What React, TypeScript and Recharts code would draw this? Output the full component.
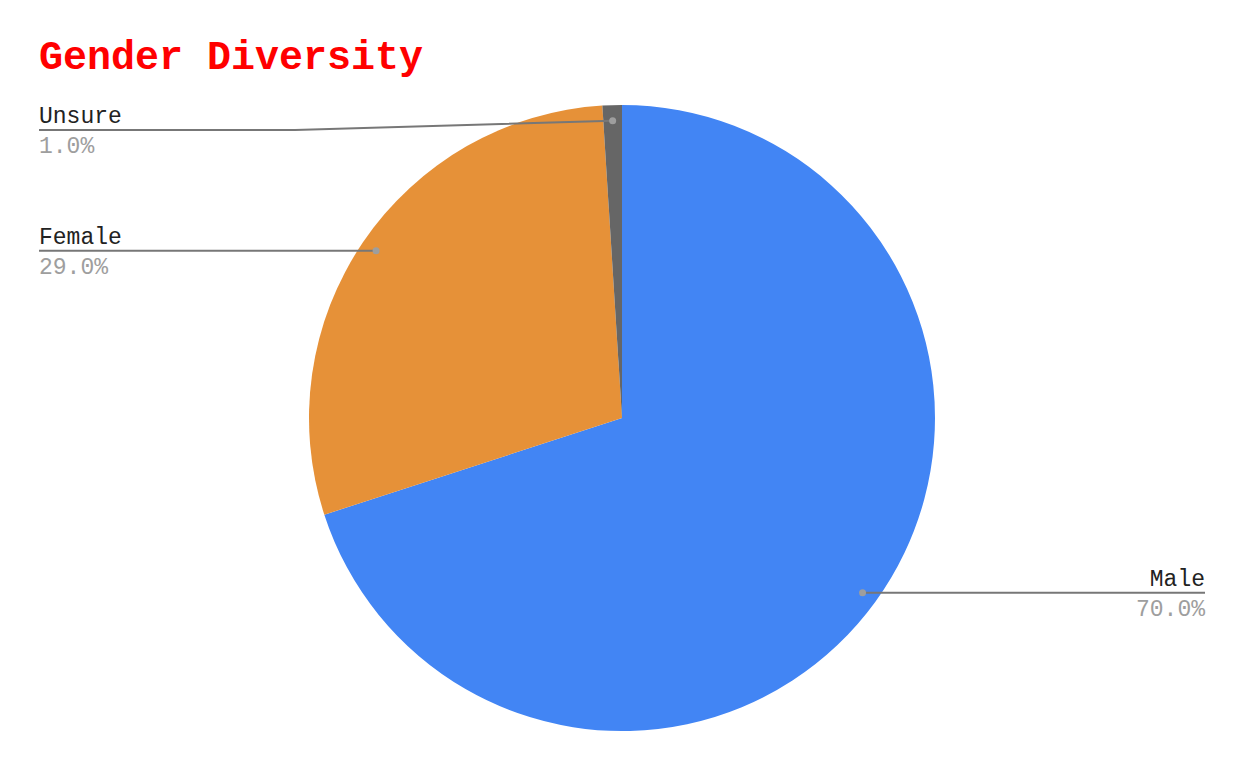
import React from 'react';
import { PieChart, Pie, Cell } from 'recharts';

const categories = ['Male', 'Female', 'Unsure'];
const shares = [70, 29, 1];
const colors = ['#4285f4', '#e69138', '#666666'];

const data = categories.map((name, i) => ({ name, value: shares[i] }));

const FONT = '"Courier New", "Liberation Mono", monospace';
const RAD = Math.PI / 180;

// label with a dot inside the slice, a leader line and name/percent at the chart edge
function renderLabel(props: any) {
  const { cx, cy, midAngle, outerRadius, percent, name } = props;
  const r = outerRadius * 0.95;
  const dx = cx + r * Math.cos(-midAngle * RAD);
  const dy = cy + r * Math.sin(-midAngle * RAD);
  const left = Math.cos(-midAngle * RAD) < 0;
  const ly = Math.max(dy, 130);
  const edge = left ? 39 : 1205;
  const elbow = left ? Math.min(dx, 295) : Math.max(dx, 949);
  const pct = (percent * 100).toFixed(1) + '%';
  return (
    <g key={name}>
      <polyline
        points={`${dx},${dy} ${elbow},${ly} ${edge},${ly}`}
        fill="none"
        stroke="#777777"
        strokeWidth={2}
      />
      <circle cx={dx} cy={dy} r={3.5} fill="#9e9e9e" />
      <text x={edge} y={ly - 7} textAnchor={left ? 'start' : 'end'} fontFamily={FONT} fontSize={23} fill="#222222">
        {name}
      </text>
      <text x={edge} y={ly + 23} textAnchor={left ? 'start' : 'end'} fontFamily={FONT} fontSize={23} fill="#9e9e9e">
        {pct}
      </text>
    </g>
  );
}

export default function App() {
  return (
    <div style={{ position: 'absolute', left: 0, top: 0, width: 1244, height: 770, background: '#fff' }}>
      <PieChart width={1244} height={770} margin={{ top: 0, right: 0, bottom: 0, left: 0 }}>
        <Pie
          data={data}
          dataKey="value"
          nameKey="name"
          cx={622}
          cy={418}
          outerRadius={313}
          startAngle={90}
          endAngle={-270}
          stroke="none"
          label={renderLabel}
          labelLine={false}
          isAnimationActive={false}
        >
          {data.map((d, i) => (
            <Cell key={d.name} fill={colors[i]} />
          ))}
        </Pie>
      </PieChart>
      <svg width={500} height={90} style={{ position: 'absolute', left: 0, top: 0 }}>
        <text x={39} y={69} fontFamily={FONT} fontSize={40} fontWeight="bold" fill="#ff0000">
          Gender Diversity
        </text>
      </svg>
    </div>
  );
}
